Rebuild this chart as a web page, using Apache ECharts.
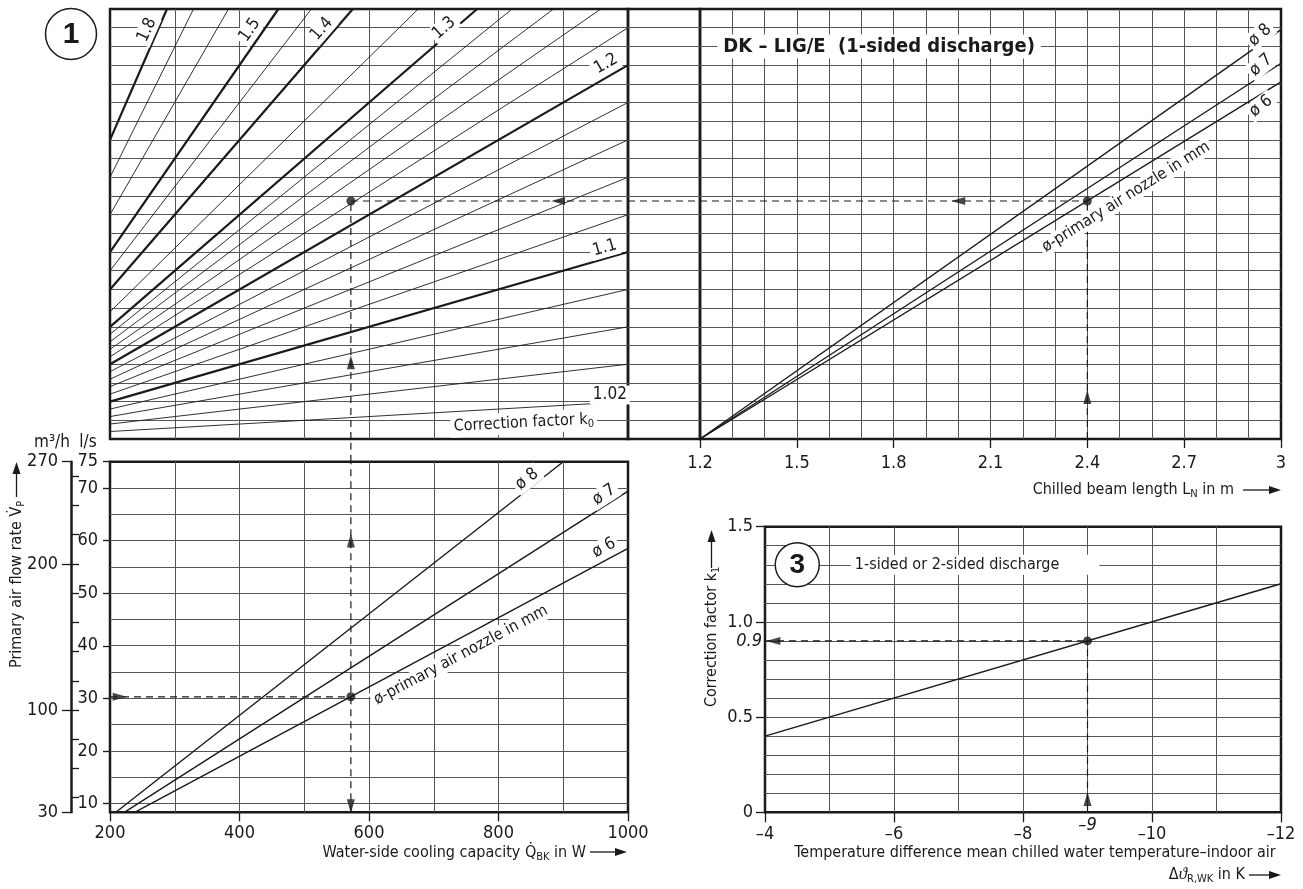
<!DOCTYPE html>
<html><head><meta charset="utf-8">
<script src="https://cdn.jsdelivr.net/npm/echarts@6/dist/echarts.min.js"></script>
<style>html,body{margin:0;padding:0;background:#fff}#c{width:1303px;height:889px}</style>
</head><body><div id="c"></div>
<script>
// ================= DATA =================
// Panel 1 (top-left): correction factor k0 lines, value axis Y in W (Y = additional capacity)
const k0Values = [1.8,1.7,1.6,1.5,1.45,1.4,1.34,1.3,1.28,1.26,1.24,1.22,1.2,1.18,1.16,1.14,1.12,1.1,1.08,1.06,1.04,1.02];
const k0Thick  = [1.8,1.5,1.4,1.3,1.2,1.1];
const k0StartQ = [200,200,200,200,200,200,200,200,200,200,200,200,200,200,200,200,200,200,200,200,200,200];
const k0StartY = [160,140,120,100,90,80,68,60,56,52,48,44,40,36,32,28,24,20,16,12,8,4];
const k0EndQ   = [288,329,383,460,511,575,676,767,821,885,958,1000,1000,1000,1000,1000,1000,1000,1000,1000,1000,1000];
const k0EndY   = [230,230,230,230,230,230,230,230,230,230,230,220,200,180,160,140,120,100,80,60,40,20];
// Top-right: chilled beam length vs nozzle diameter (start at L=1.2, Y=0; end at L=3)
const nozzleNames = ['ø 8','ø 7','ø 6'];
const trStartL = [1.2,1.2,1.2];
const trStartY = [0,0,0];
const trEndL   = [3,3,3];
const trEndY   = [219,201,191];
// Bottom-left: primary air flow (l/s) vs water-side cooling capacity (W)
const blStartQ = [209,222,238];
const blStartV = [8.333,8.333,8.333];
const blEndQ   = [900,1000,1000];
const blEndV   = [75,69.4,58.5];
// Panel 3: correction factor k1 vs temperature difference
const k1Temps  = [-4,-12];
const k1Values = [0.4,1.2];
// Worked example
const exQ = 572, exV = 30.3, exY = 127.3, exL = 2.4, exDT = -9, exK1 = 0.9;
// Tick labels
const lsLabels  = [10,20,30,40,50,60,70,75];
const m3hLabels = [30,100,200,270];
const m3hMinor  = [40,60,80,100,120,140,160,180,200,220,240,260];
const k1Labels  = [0,0.5,1.0,1.5];

// ================= STYLE =================
const F = "'Liberation Sans Narrow','DejaVu Sans Condensed','Liberation Sans',Arial,sans-serif";
const INK = '#1a1a1a';
const GRIDC = '#555555';
const NOAX = {axisLine:{show:false,onZero:false}, axisTick:{show:false}, axisLabel:{show:false}};
const split = (minL,maxL)=>({show:true, showMinLine:!!minL, showMaxLine:!!maxL, lineStyle:{color:GRIDC,width:1}});
const LBL = {color:INK, fontFamily:F, fontSize:18};
const TICK = (len)=>({show:true, length:len, lineStyle:{color:INK,width:1.3}});
const BORDER = {show:true, borderColor:INK, borderWidth:2.5, backgroundColor:'transparent'};

const chart = echarts.init(document.getElementById('c'), null, {renderer:'canvas'});

const grid = [
  Object.assign({left:110, top:9, width:518, height:430}, BORDER),      //0 TL
  Object.assign({left:628, top:9, width:72, height:430}, BORDER),       //1 filler
  Object.assign({left:700, top:9, width:581, height:430}, BORDER),      //2 TR
  Object.assign({left:110, top:461.7, width:518, height:350.6}, BORDER),//3 BL
  {left:110, top:461.7, width:518, height:341.8, show:false},           //4 BL gridline overlay (10..75 l/s)
  {left:110, top:439, width:518, height:22.7, show:false},              //5 gap
  Object.assign({left:765, top:526.7, width:516, height:285.6}, BORDER) //6 BR
];

const xAxis = [
  Object.assign({gridIndex:0,type:'value',position:'bottom',min:200,max:1000,interval:100,splitLine:split()},NOAX), //0
  Object.assign({gridIndex:1,type:'value',position:'bottom',min:0,max:1,splitLine:{show:false}},NOAX),             //1
  Object.assign({gridIndex:2,type:'value',position:'bottom',min:1.2,max:3,interval:0.1,splitLine:split()},NOAX),   //2
  {gridIndex:2,type:'value',position:'bottom',min:1.2,max:3,interval:0.3,axisLine:{show:false,onZero:false},
    axisTick:TICK(9),axisLabel:Object.assign({margin:15,formatter:v=>String(Math.round(v*10)/10)},LBL),splitLine:{show:false}}, //3
  Object.assign({gridIndex:3,type:'value',position:'bottom',min:200,max:1000,interval:100,splitLine:split()},NOAX), //4
  {gridIndex:3,type:'value',position:'bottom',min:200,max:1000,interval:200,axisLine:{show:false,onZero:false},
    axisTick:TICK(9),axisLabel:Object.assign({margin:12,formatter:v=>String(v)},LBL),splitLine:{show:false}}, //5
  Object.assign({gridIndex:4,type:'value',position:'bottom',min:200,max:1000,splitLine:{show:false}},NOAX), //6
  Object.assign({gridIndex:5,type:'value',position:'bottom',min:200,max:1000,splitLine:{show:false}},NOAX), //7
  Object.assign({gridIndex:6,type:'value',position:'bottom',inverse:true,min:-12,max:-4,interval:1,splitLine:split()},NOAX), //8
  {gridIndex:6,type:'value',position:'bottom',inverse:true,min:-12,max:-4,interval:2,axisLine:{show:false,onZero:false},
    axisTick:TICK(10),axisLabel:Object.assign({margin:13,formatter:v=>v<0?'\u2013'+Math.abs(v):String(v)},LBL),splitLine:{show:false}}, //9
  {gridIndex:6,type:'value',position:'bottom',inverse:true,min:-12,max:-4,axisLine:{show:false,onZero:false},axisTick:{show:false},
    axisLabel:Object.assign({customValues:[exDT],margin:4,fontStyle:'italic',formatter:v=>'\u2013'+Math.abs(v)},LBL),splitLine:{show:false}} //10
];

const yAxis = [
  Object.assign({gridIndex:0,type:'value',position:'left',min:0,max:230,interval:10,splitLine:split()},NOAX), //0
  Object.assign({gridIndex:1,type:'value',position:'left',min:0,max:230,interval:10,splitLine:split()},NOAX), //1
  Object.assign({gridIndex:2,type:'value',position:'left',min:0,max:230,interval:10,splitLine:split()},NOAX), //2
  {gridIndex:3,type:'value',position:'left',min:25/3,max:75,axisLine:{show:false,onZero:false},
    axisTick:Object.assign({customValues:lsLabels},TICK(7)),axisLabel:Object.assign({customValues:lsLabels,margin:12},LBL),splitLine:{show:false}}, //3
  {gridIndex:3,type:'value',position:'left',offset:39,min:30,max:270,axisLine:{show:true,onZero:false,lineStyle:{color:INK,width:2.5}},
    axisTick:Object.assign({customValues:m3hLabels},TICK(9)),axisLabel:Object.assign({customValues:m3hLabels,margin:13},LBL),splitLine:{show:false}}, //4
  {gridIndex:3,type:'value',position:'left',offset:39,min:30,max:270,axisLine:{show:false,onZero:false},
    axisTick:Object.assign({customValues:m3hMinor,inside:true},TICK(8)),axisLabel:{show:false},splitLine:{show:false}}, //5
  Object.assign({gridIndex:4,type:'value',position:'left',min:10,max:75,interval:5,splitLine:split(true,false)},NOAX), //6
  Object.assign({gridIndex:5,type:'value',position:'left',min:0,max:1,splitLine:{show:false}},NOAX), //7
  Object.assign({gridIndex:6,type:'value',position:'left',min:0,max:1.5,interval:0.1,splitLine:split()},NOAX), //8
  {gridIndex:6,type:'value',position:'left',min:0,max:1.5,axisLine:{show:false,onZero:false},
    axisTick:Object.assign({customValues:k1Labels},TICK(9)),axisLabel:Object.assign({customValues:k1Labels,margin:12,formatter:v=>v===0?'0':v.toFixed(1)},LBL),splitLine:{show:false}}, //9
  {gridIndex:6,type:'value',position:'left',min:0,max:1.5,axisLine:{show:false,onZero:false},axisTick:{show:false},
    axisLabel:Object.assign({customValues:[exK1],margin:3,fontStyle:'italic',formatter:v=>String(v)},LBL),splitLine:{show:false}} //10
];

const series = [];
const line = (xi,yi,data,width,extra)=>series.push(Object.assign({type:'line',xAxisIndex:xi,yAxisIndex:yi,data,symbol:'none',silent:true,
  lineStyle:{color:INK,width:width},z:3},extra||{}));
k0Values.forEach((k,i)=>line(0,0,[[k0StartQ[i],k0StartY[i]],[k0EndQ[i],k0EndY[i]]],k0Thick.includes(k)?2.2:0.9));
nozzleNames.forEach((n,i)=>line(2,2,[[trStartL[i],trStartY[i]],[trEndL[i],trEndY[i]]],1.4));
nozzleNames.forEach((n,i)=>line(4,3,[[blStartQ[i],blStartV[i]],[blEndQ[i],blEndV[i]]],1.4));
line(8,8,k1Temps.map((t,i)=>[t,k1Values[i]]),1.5);

// dashed reading lines
const DASH = {lineStyle:{color:INK,width:1.2,type:[7,5]},z:4};
const dashed = (xi,yi,data)=>line(xi,yi,data,1.2,DASH);
dashed(4,3,[[200,exV],[exQ,exV]]);
dashed(4,3,[[exQ,25/3],[exQ,75]]);
dashed(7,7,[[exQ,0],[exQ,1]]);
dashed(0,0,[[exQ,0],[exQ,exY]]);
dashed(0,0,[[exQ,exY],[1000,exY]]);
dashed(1,1,[[0,exY],[1,exY]]);
dashed(2,2,[[1.2,exY],[exL,exY]]);
dashed(2,2,[[exL,0],[exL,exY]]);
dashed(8,8,[[-4,exK1],[exDT,exK1]]);
dashed(8,8,[[exDT,0],[exDT,exK1]]);

// arrowheads (direction: 0 up, 90 left, -90 right, 180 down)
const arrows = (xi,yi,pts)=>series.push({type:'scatter',xAxisIndex:xi,yAxisIndex:yi,silent:true,z:6,symbol:'triangle',symbolSize:[8,14],
  itemStyle:{color:INK},data:pts.map(p=>({value:[p[0],p[1]],symbolRotate:p[2]}))});
arrows(4,3,[[215,exV,-90],[exQ,60,0],[exQ,9.5,180]]);
arrows(0,0,[[exQ,41,0],[892,exY,90]]);
arrows(2,2,[[2.0,exY,90],[exL,22.5,0]]);
arrows(8,8,[[-4.13,exK1,90],[exDT,0.07,0]]);
// dots
const dots = (xi,yi,pts)=>series.push({type:'scatter',xAxisIndex:xi,yAxisIndex:yi,silent:true,z:7,symbol:'circle',symbolSize:9,
  itemStyle:{color:INK},data:pts});
dots(4,3,[[exQ,exV]]);
dots(0,0,[[exQ,exY]]);
dots(2,2,[[exL,exY]]);
dots(8,8,[[exDT,exK1]]);

chart.setOption({animation:false, backgroundColor:'#fff', grid, xAxis, yAxis, series});

// ================= ANNOTATIONS =================
const P = (xi,yi,p)=>chart.convertToPixel({xAxisIndex:xi,yAxisIndex:yi},p);
const G = [];
function txt(x,y,text,o){o=o||{};G.push({type:'text',x:x,y:y,rotation:(o.r||0)*Math.PI/180,z:50,silent:true,
  style:Object.assign({text:text,fill:INK,fontFamily:F,fontSize:16,align:'center',verticalAlign:'middle'},o.s||{})});}
const WB = {backgroundColor:'#fff',padding:[1,3]};
function dtxt(xi,yi,p,text,r,s){const q=P(xi,yi,p);txt(q[0],q[1],text,{r:r,s:Object.assign({},WB,s||{})});}
const SUB = {s:{fontSize:11,fontFamily:F,fill:INK,verticalAlign:'bottom',lineHeight:13},
             it:{fontSize:17,fontFamily:"'Liberation Serif',serif",fontStyle:'italic',fill:INK,lineHeight:20}};

// top-left k0 labels
[['1.8',[257,218.8],66],['1.5',[416,218.8],55],['1.4',[527,219.3],49],['1.3',[716,219.8],41],
 ['1.2',[966,200.6],30],['1.1',[964,102.2],16],['1.02',[972,23.5],0]].forEach(a=>dtxt(0,0,a[1],a[0],a[2],{fontSize:17}));
dtxt(0,0,[839,8.6],'Correction factor k{s|0}',3,{fontSize:16,rich:SUB,lineHeight:20});
// top-right
dtxt(2,2,[1.755,210],'DK \u2013 LIG/E  (1-sided discharge)',0,{fontSize:20,fontWeight:'bold',padding:[2,6]});
[['ø 8',[2.935,216],42],['ø 7',[2.938,200],40],['ø 6',[2.938,178],38]].forEach(a=>dtxt(2,2,a[1],a[0],a[2],{fontSize:17}));
dtxt(2,2,[2.52,129.4],'ø-primary air nozzle in mm',32,{fontSize:16});
// bottom-left
[['ø 8',[844,71.7],38],['ø 7',[963,68.7],33],['ø 6',[963,58.6],28]].forEach(a=>dtxt(4,3,a[1],a[0],a[2],{fontSize:17}));
dtxt(4,3,[742,38.2],'ø-primary air nozzle in mm',28,{fontSize:16});
// panel 3
(function(){const c=P(8,8,[-4.5,1.3]);
  G.push({type:'circle',z:49,silent:true,shape:{cx:c[0],cy:c[1],r:22},style:{fill:'#fff',stroke:INK,lineWidth:1.5}});
  txt(c[0],c[1]+1,'3',{s:{fontSize:28,fontWeight:'bold',fontFamily:"'Liberation Sans',Arial,sans-serif"}});
  const t=P(8,8,[-5.33,1.3]);
  txt(t[0],t[1],'1-sided or 2-sided discharge',{s:{align:'left',fontSize:16,backgroundColor:'#fff',padding:[2,40,2,4]}});
})();
// circle 1
G.push({type:'circle',z:49,silent:true,shape:{cx:71,cy:34,r:25.5},style:{fill:'#fff',stroke:INK,lineWidth:1.5}});
txt(71,35,'1',{s:{fontSize:30,fontWeight:'bold',fontFamily:"'Liberation Sans',Arial,sans-serif"}});

// axis titles
txt(586,853,'Water-side cooling capacity Q\u0307{s|BK} in W',{s:{align:'right',rich:SUB,lineHeight:20}});
txt(1234,490,'Chilled beam length L{s|N} in m',{s:{align:'right',rich:SUB,lineHeight:20}});
txt(1035,853,'Temperature difference mean chilled water temperature\u2013indoor air',{s:{}});
txt(1245,875,'\u0394{it|\u03D1}{s|R,WK} in K',{s:{align:'right',rich:SUB,lineHeight:20}});
txt(16.5,668,'Primary air flow rate V\u0307{s|P}',{r:90,s:{align:'left',rich:SUB,lineHeight:20}});
txt(711.5,707,'Correction factor k{s|1}',{r:90,s:{align:'left',rich:SUB,lineHeight:20}});
txt(52,443,'m\u00B3/h',{s:{fontSize:17}});
txt(88,443,'l/s',{s:{fontSize:17}});
// title arrows
function harrow(x1,x2,y){G.push({type:'line',z:50,silent:true,shape:{x1:x1,y1:y,x2:x2-6,y2:y},style:{stroke:INK,lineWidth:1.3}});
  G.push({type:'polygon',z:50,silent:true,shape:{points:[[x2,y],[x2-12,y-4],[x2-12,y+4]]},style:{fill:INK}});}
function varrow(x,y1,y2){G.push({type:'line',z:50,silent:true,shape:{x1:x,y1:y1,x2:x,y2:y2+6},style:{stroke:INK,lineWidth:1.3}});
  G.push({type:'polygon',z:50,silent:true,shape:{points:[[x,y2],[x-4,y2+12],[x+4,y2+12]]},style:{fill:INK}});}
harrow(590,627,852);
harrow(1243,1281,490);
harrow(1249,1281,875);
varrow(16.5,497,462);
varrow(711.5,568,530);

chart.setOption({graphic:G});
</script></body></html>
